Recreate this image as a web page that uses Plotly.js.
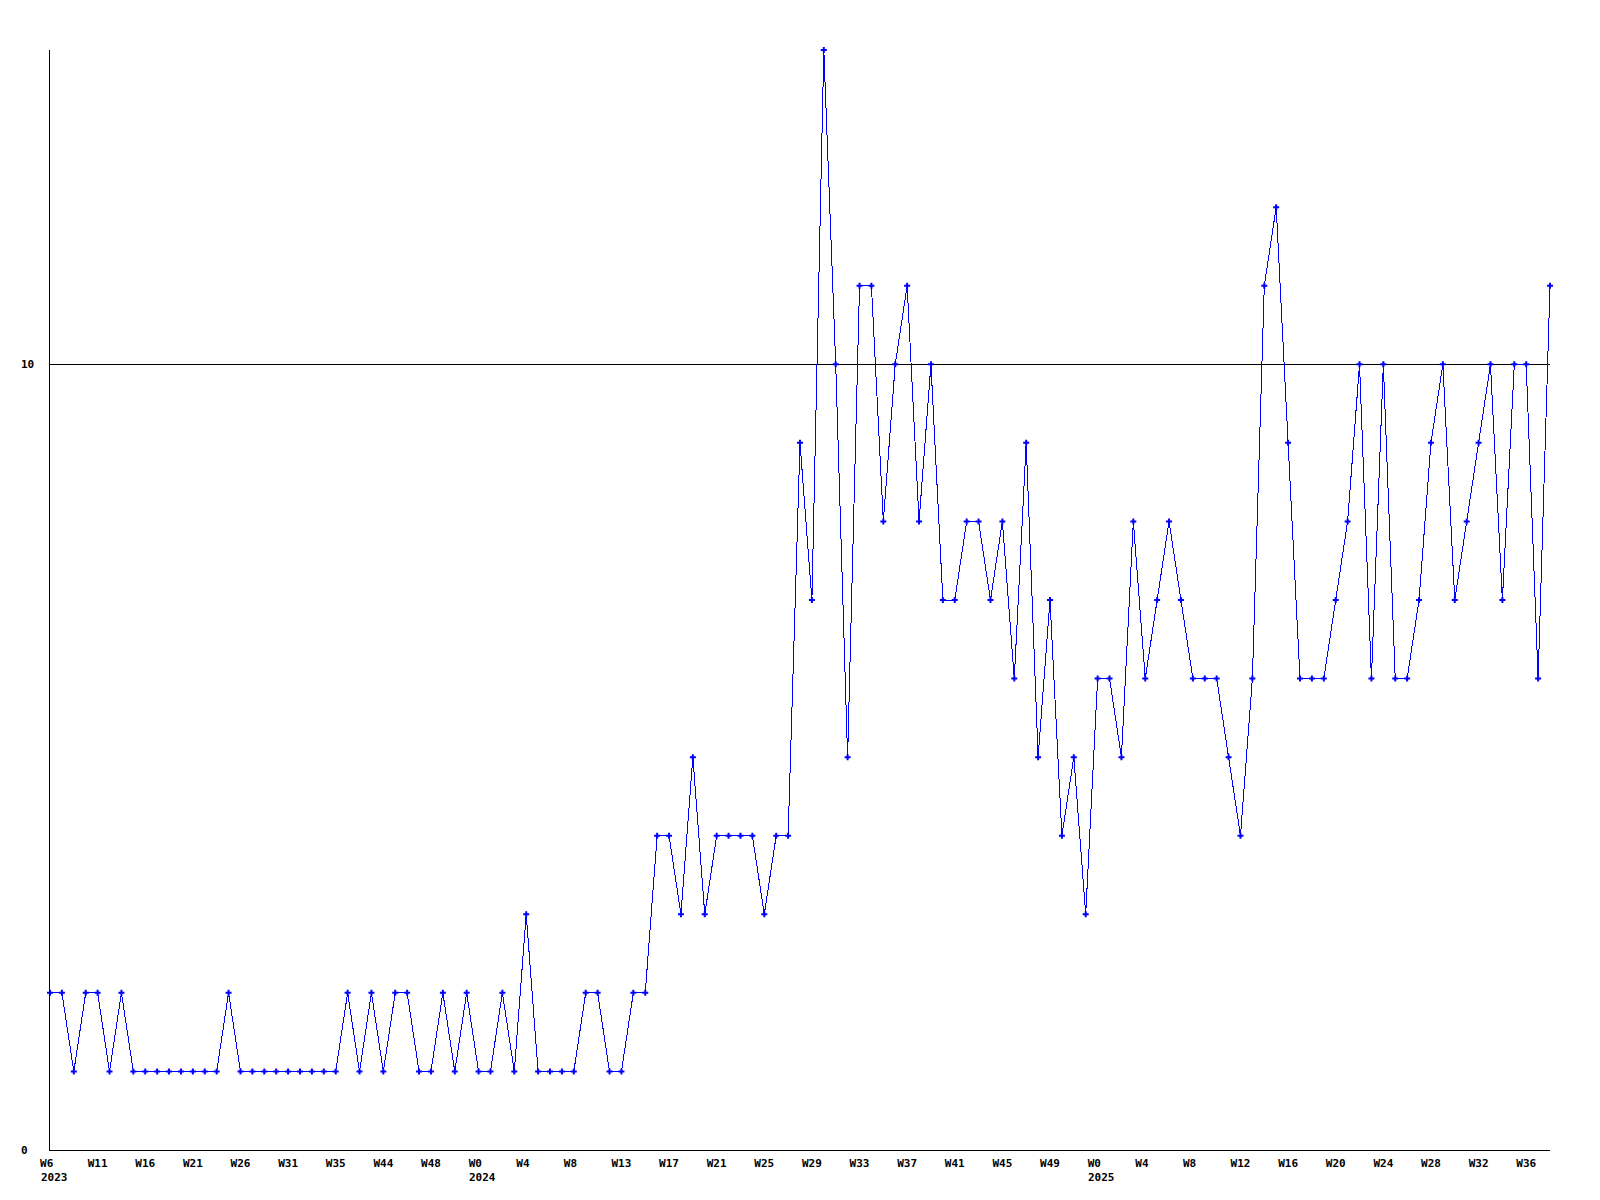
<!DOCTYPE html>
<html>
<head>
<meta charset="utf-8">
<script src="https://cdn.plot.ly/plotly-3.0.1.min.js"></script>
<style>
  html, body { margin: 0; padding: 0; background: #ffffff; }
  #chart { width: 1600px; height: 1200px; }
  #chart .scatterlayer .js-line { shape-rendering: crispEdges; }
</style>
</head>
<body>
<div id="chart"></div>
<script>
// Weekly values (one per week, left to right)
const values = [
  2,2,1,2,2,1,2,1,1,1,1,1,1,1,1,2,1,1,1,1,1,1,1,1,1,2,1,2,1,2,2,1,1,2,1,2,1,1,2,1,3,1,1,
  1,1,2,2,1,1,2,2,4,4,3,5,3,4,4,4,4,3,4,4,
  9,7,14,10,5,11,11,8,10,11,8,10,7,7,8,8,7,8,6,9,5,7,4,
  5,3,6,6,5,8,6,7,8,7,6,6,6,5,4,6,11,12,9,6,
  6,6,7,8,10,6,10,6,6,7,9,10,7,8,9,10,7,10,10,6,11
];

// Week tick labels, one every 4 points
const weekLabels = [
  "W6","W11","W16","W21","W26","W31","W35","W44","W48",
  "W0","W4","W8","W13","W17","W21","W25","W29","W33","W37","W41","W45","W49",
  "W0","W4","W8","W12","W16","W20","W24","W28","W32","W36"
];
const tickStep = 4;

// Year labels and the point index they sit under
const yearLabels = ["2023", "2024", "2025"];
const yearIndex = [0, 36, 88];

// Y-axis labels
const yTickVals = [0, 10];
const yTickText = ["0", "10"];
const yMax = 14;

const xs = values.map((_, i) => i);
const tickVals = weekLabels.map((_, k) => k * tickStep);
const NBSP = "\u00a0";
const tickText = weekLabels.map(t => t.length < 3 ? t + NBSP.repeat(3 - t.length) : t);

const font = { family: "DejaVu Sans Mono, Liberation Mono, monospace", size: 11, color: "#000000", weight: "bold" };

const trace = {
  x: xs,
  y: values,
  type: "scatter",
  mode: "lines+markers",
  line: { color: "rgb(0,0,255)", width: 1 },
  marker: { color: "rgb(0,0,255)", symbol: "cross", size: 5, line: { width: 0 } },
  cliponaxis: false,
  hoverinfo: "x+y"
};

const annotations = [];
yearLabels.forEach((t, k) => {
  annotations.push({
    text: t, x: yearIndex[k], xref: "x", y: 0, yref: "paper",
    xanchor: "left", yanchor: "top", xshift: -11.5, yshift: -18.5,
    showarrow: false, font: font
  });
});
yTickVals.forEach((v, k) => {
  annotations.push({
    text: yTickText[k], x: 0, xref: "paper", y: v, yref: "y",
    xanchor: "left", yanchor: "middle", xshift: -31,
    showarrow: false, font: font
  });
});

const layout = {
  width: 1600,
  height: 1200,
  paper_bgcolor: "#ffffff",
  plot_bgcolor: "#ffffff",
  showlegend: false,
  margin: { l: 50, r: 50, t: 50, b: 50, pad: 0 },
  font: font,
  xaxis: {
    range: [0, values.length - 1],
    tickmode: "array",
    tickvals: tickVals,
    ticktext: tickText,
    tickfont: font,
    ticks: "outside",
    ticklen: 3,
    tickcolor: "rgba(0,0,0,0)",
    showgrid: false,
    zeroline: false,
    showline: true,
    linecolor: "#000000",
    linewidth: 1,
    fixedrange: true
  },
  yaxis: {
    range: [0, yMax],
    tickmode: "array",
    tickvals: yTickVals,
    showticklabels: false,
    ticks: "",
    showgrid: true,
    gridcolor: "#000000",
    gridwidth: 1,
    zeroline: false,
    showline: true,
    linecolor: "#000000",
    linewidth: 1,
    fixedrange: true
  },
  annotations: annotations
};

Plotly.newPlot("chart", [trace], layout, { displayModeBar: false, staticPlot: true });
</script>
</body>
</html>
